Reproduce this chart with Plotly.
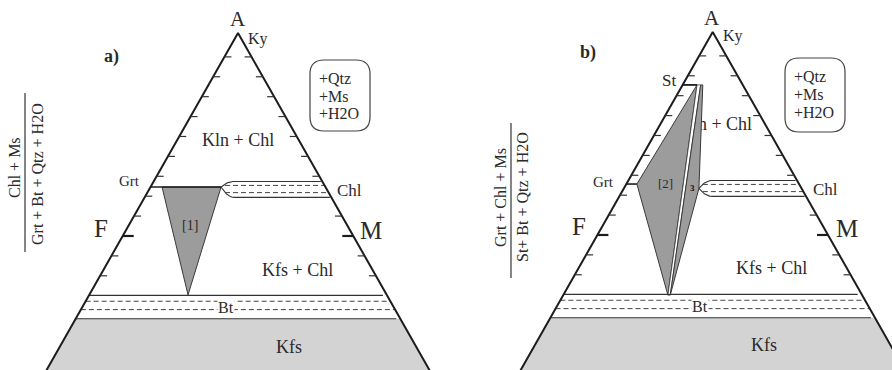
import numpy as np
import plotly.graph_objects as go

# ---------------- data: ternary A-F-M fractions ----------------
tick_A = [0.94, 0.89, 0.84, 0.79, 0.74, 0.69, 0.64, 0.59, 0.54, 0.49, 0.44, 0.39]
fm_tick_A = 0.49
chl_band_A = [0.627, 0.617, 0.599, 0.587]   # solid, dashed, dashed, solid
bt_band_A = [0.341, 0.326, 0.305, 0.282]    # solid, dashed, dashed, solid (Kfs below)

# panel a
a_grt_A = 0.613
a_f1_A = [0.613, 0.613, 0.342]
a_f1_M = [0.0255, 0.156, 0.2185]

# panel b
b_st_A = 0.867
b_grt_A = 0.618
b_f2_A = [0.867, 0.618, 0.339]
b_f2_M = [0.0318, 0.0233, 0.2314]
b_f3_A = [0.867, 0.867, 0.607, 0.339]
b_f3_M = [0.0399, 0.0446, 0.166, 0.2366]

# ---------------- layout constants ----------------
W, H = 892, 370
S = 398.0          # px per composition unit
K = 0.568          # half-width of triangle per unit depth
APEX = {"a": (238.0, 33.0), "b": (712.7, 32.0)}
DOM = {"a": (0.0, 0.5), "b": (0.5, 1.0)}
AX = {"a": ("x", "y"), "b": ("x2", "y2")}
FONT = "Liberation Serif"
INK = "#1c1c1c"
TXT = "#2a2a2a"
KFS_GRAY = "#d3d3d3"
FIELD_GRAY = "#9c9c9c"

fig = go.Figure()


def cart(A, M):
    A = np.asarray(A, float)
    M = np.asarray(M, float)
    return K * (2 * M + A - 1), A


def ledge(A):
    return -K * (1 - A)


def redge(A):
    return K * (1 - A)


def add(p, xs, ys, color=INK, width=1.2, dash=None, fill=None, fillcolor=None):
    xa, ya = AX[p]
    fig.add_trace(go.Scatter(
        x=list(xs), y=list(ys), xaxis=xa, yaxis=ya, mode="lines",
        line=dict(color=color, width=width, dash=dash),
        fill=fill, fillcolor=fillcolor, hoverinfo="skip", showlegend=False))


def poly(p, A, M, fillcolor, color="#3a3a3a", width=1.0):
    x, y = cart(A, M)
    xs = list(x) + [x[0]]
    ys = list(y) + [y[0]]
    add(p, xs, ys, color=color, width=width, fill="toself", fillcolor=fillcolor)


def kfs_region(p):
    kA = bt_band_A[-1]
    lo = -0.3
    add(p, [ledge(kA), redge(kA), redge(lo), ledge(lo), ledge(kA)],
        [kA, kA, lo, lo, kA], color=KFS_GRAY, width=0, fill="toself", fillcolor=KFS_GRAY)


def lens(p, xt, yt):
    top, d1, d2, bot = chl_band_A
    L = 13 / S
    t = np.linspace(0, 1, 12)
    for yv in (top, bot):
        xs = list(xt + L * t) + [redge(yv) - 1.5 / S]
        ys = list(yt + (yv - yt) * (1 - (1 - t) ** 2)) + [yv]
        add(p, xs, ys, color="#333333", width=1.1)
    for yv in (d1, d2):
        add(p, [xt + 4 / S, redge(yv)], [yv, yv], color="#444444", width=1.0, dash="5px,3px")


def bt_band(p):
    top, d1, d2, bot = bt_band_A
    for yv in (top, bot):
        add(p, [ledge(yv), redge(yv) - 4 / S], [yv, yv], color="#333333", width=1.2)
    for yv in (d1, d2):
        add(p, [ledge(yv), redge(yv)], [yv, yv], color="#444444", width=1.0, dash="5px,3px")


def frame(p, skip_right=()):
    lo = -0.3
    add(p, [ledge(lo), 0, redge(lo)], [lo, 1, lo], color=INK, width=2.0)
    tl = 7 / S
    xs, ys = [], []
    for a in tick_A:
        if abs(a - fm_tick_A) < 1e-9:
            continue
        xs += [ledge(a), ledge(a) + tl, None]
        ys += [a, a, None]
        if a not in skip_right:
            xs += [redge(a), redge(a) - tl, None]
            ys += [a, a, None]
    add(p, xs, ys, color="#333333", width=1.2)
    ll = 11 / S
    a = fm_tick_A
    add(p, [ledge(a), ledge(a) + ll, None, redge(a), redge(a) - ll],
        [a, a, None, a, a], color=INK, width=2.2)


# ---------------- panel a ----------------
kfs_region("a")
poly("a", a_f1_A, a_f1_M, FIELD_GRAY)
gx, gy = cart(a_grt_A, a_f1_M[1])
add("a", [ledge(a_grt_A), float(gx)], [a_grt_A, a_grt_A], color=INK, width=1.6)
lens("a", float(gx), a_grt_A)
bt_band("a")
frame("a", skip_right=(0.59,))

# ---------------- panel b ----------------
kfs_region("b")
ax_b, ay_b = APEX["b"]
fig.add_trace(go.Scatter(
    x=[(716 - ax_b) / S], y=[1 - (125 - ay_b) / S], xaxis="x2", yaxis="y2",
    mode="text", text=["Kln + Chl"], textposition="middle center",
    textfont=dict(family=FONT, size=18, color=TXT), hoverinfo="skip", showlegend=False))
poly("b", b_f2_A, b_f2_M, FIELD_GRAY)
poly("b", [b_f2_A[0], b_f3_A[0], b_f3_A[3], b_f2_A[2]],
     [b_f2_M[0], b_f3_M[0], b_f3_M[3], b_f2_M[2]], "#ffffff", width=0.8)
poly("b", b_f3_A, b_f3_M, FIELD_GRAY)
sx, sy = cart(b_f2_A[0], b_f2_M[0])
add("b", [ledge(b_st_A), float(sx)], [b_st_A, b_st_A], color=INK, width=1.8)
gx2, gy2 = cart(b_f2_A[1], b_f2_M[1])
add("b", [ledge(b_grt_A), float(gx2)], [b_grt_A, b_grt_A], color=INK, width=1.6)
cx3, cy3 = cart(b_f3_A[2], b_f3_M[2])
lens("b", float(cx3), float(cy3))
bt_band("b")
frame("b", skip_right=(0.59,))

# ---------------- axes ----------------
for p in ("a", "b"):
    axp, ayp = APEX[p]
    d0, d1 = DOM[p]
    left_px = d0 * W
    width_px = (d1 - d0) * W
    xr = [(left_px - axp) / S, (left_px + width_px - axp) / S]
    yr = [1 - (H - ayp) / S, 1 + ayp / S]
    xname = "xaxis" if p == "a" else "xaxis2"
    yname = "yaxis" if p == "a" else "yaxis2"
    fig.update_layout(**{
        xname: dict(domain=[d0, d1], range=xr, visible=False, fixedrange=True,
                    anchor="y" if p == "a" else "y2"),
        yname: dict(domain=[0, 1], range=yr, visible=False, fixedrange=True,
                    anchor="x" if p == "a" else "x2"),
    })


# ---------------- labels ----------------
def ann(text, px, py, size, angle=0, bg=None, xanchor="center", color=TXT):
    fig.add_annotation(x=px / W, y=1 - py / H, xref="paper", yref="paper", text=text,
                       showarrow=False, textangle=angle, xanchor=xanchor, yanchor="middle",
                       font=dict(family=FONT, size=size, color=color),
                       bgcolor=bg, borderpad=0)


def rbox(x0, y0, x1, y1, r):
    def P(px, py):
        return f"{px / W:.5f},{1 - py / H:.5f}"
    path = (f"M {P(x0 + r, y0)} L {P(x1 - r, y0)} Q {P(x1, y0)} {P(x1, y0 + r)} "
            f"L {P(x1, y1 - r)} Q {P(x1, y1)} {P(x1 - r, y1)} L {P(x0 + r, y1)} "
            f"Q {P(x0, y1)} {P(x0, y1 - r)} L {P(x0, y0 + r)} Q {P(x0, y0)} {P(x0 + r, y0)} Z")
    fig.add_shape(type="path", path=path, xref="paper", yref="paper",
                  line=dict(color="#444444", width=1.2))


def vline(px, py0, py1):
    fig.add_shape(type="line", xref="paper", yref="paper", x0=px / W, x1=px / W,
                  y0=1 - py0 / H, y1=1 - py1 / H, line=dict(color="#333333", width=1.2))


# panel a labels
ann("A", 238, 19, 21)
ann("Ky", 258, 39, 16)
ann("<b>a)</b>", 111, 57, 18)
ann("Kln + Chl", 238, 140, 18)
ann("Grt", 129, 181, 15)
ann("Chl", 349, 191, 17)
ann("[1]", 190, 225, 14)
ann("F", 101, 228, 25)
ann("M", 371, 230, 25)
ann("Kfs + Chl", 297, 270, 18)
ann("Bt", 226, 307, 16, bg="white")
ann("Kfs", 289, 347, 18)
rbox(310, 60, 370, 131, 14)
ann("+Qtz", 318, 78, 16, xanchor="left")
ann("+Ms", 318, 96, 16, xanchor="left")
ann("+H2O", 318, 114, 16, xanchor="left")
vline(25, 93, 252)
ann("Chl + Ms", 14, 168, 16, angle=-90)
ann("Grt + Bt + Qtz + H2O", 37, 174, 16, angle=-90)

# panel b labels
ann("A", 712, 18, 21)
ann("Ky", 733, 36, 16)
ann("<b>b)</b>", 588, 53, 18)
ann("St", 669, 80, 17)
ann("Grt", 603, 182, 15)
ann("[2]", 665, 183, 13)
ann("<b>3</b>", 692, 188, 9, color="#111111")
ann("Chl", 825, 189, 17)
ann("F", 579, 226, 25)
ann("M", 847, 228, 25)
ann("Kfs + Chl", 771, 268, 18)
ann("Bt", 700, 306, 16, bg="white")
ann("Kfs", 764, 345, 18)
rbox(785, 58, 845, 132, 14)
ann("+Qtz", 793, 76, 16, xanchor="left")
ann("+Ms", 793, 94, 16, xanchor="left")
ann("+H2O", 793, 112, 16, xanchor="left")
vline(511, 123, 278)
ann("Grt + Chl + Ms", 500, 197, 16, angle=-90)
ann("St+ Bt + Qtz + H2O", 522, 197, 16, angle=-90)

fig.update_layout(width=W, height=H, margin=dict(l=0, r=0, t=0, b=0),
                  paper_bgcolor="white", plot_bgcolor="white", showlegend=False)

fig.write_html("out.html", config={"displayModeBar": False},
               post_script="document.body.style.margin='0';document.body.style.overflow='hidden';")
